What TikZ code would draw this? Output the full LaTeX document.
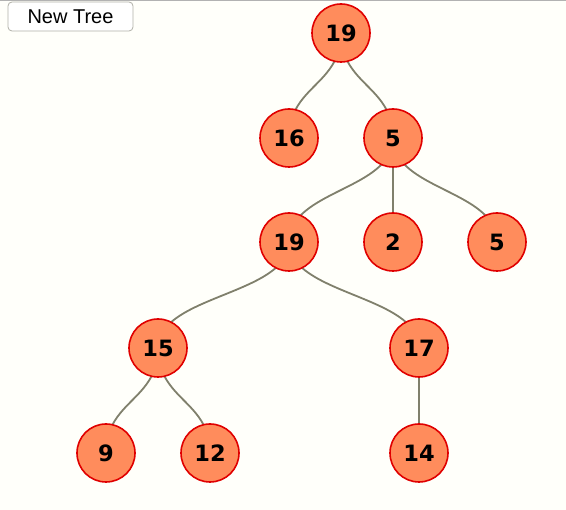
\documentclass[tikz,border=0pt]{standalone}
\usepackage{fontspec}
\setmainfont{DejaVu Sans}
\newfontfamily\btnfont{Liberation Sans}
\usetikzlibrary{calc}

\definecolor{pagebg}{HTML}{FFFFFA}
\definecolor{nodefill}{HTML}{FF8C5C}
\definecolor{noderim}{HTML}{E00000}
\definecolor{linkcol}{HTML}{80806C}
\definecolor{btnrim}{HTML}{B0B0A8}

\pgfdeclarelayer{background}
\pgfdeclarelayer{edges}
\pgfsetlayers{background,edges,main}

% curved link from parent to child, vertical at both ends
\newcommand{\treelink}[2]{%
  \path (#1.center) -- (#2.center) coordinate[midway] (mid);
  \draw[link] (#1.center) .. controls (#1.center |- mid) and (#2.center |- mid) .. (#2.center);
}

\begin{document}
\begin{tikzpicture}[x=1pt, y=-1pt,
    vertex/.style={draw=noderim, fill=nodefill, circle, line width=1.6pt,
      minimum size=58pt, inner sep=0pt, font=\fontsize{22.5}{22.5}\selectfont\bfseries},
    link/.style={draw=linkcol, line width=1.8pt},
    button/.style={draw=btnrim, fill=white, rounded corners=4pt, line width=0.8pt,
      minimum width=125pt, minimum height=29pt, inner sep=0pt,
      font=\btnfont\fontsize{20}{20}\selectfont}]
  \useasboundingbox (0,0) rectangle (566,510);
  \begin{pgfonlayer}{background}
    \fill[pagebg] (0,0) rectangle (566,510);
    \draw[gray!60, line width=0.8pt] (0,0.4) -- (566,0.4);
  \end{pgfonlayer}

  \node[button] (newtree) at (70.5,16.5) {New Tree};

  % level 0
  \node[vertex] (r) at (341,33) {19};
  % level 1
  \node[vertex] (a) at (289,138) {16};
  \node[vertex] (b) at (393,138) {5};
  % level 2
  \node[vertex] (ba) at (289,242) {19};
  \node[vertex] (bb) at (393,242) {2};
  \node[vertex] (bc) at (497,242) {5};
  % level 3
  \node[vertex] (baa) at (158,348) {15};
  \node[vertex] (bab) at (419,348) {17};
  % level 4
  \node[vertex] (baaa) at (106,453) {9};
  \node[vertex] (baab) at (210,453) {12};
  \node[vertex] (baba) at (419,453) {14};

  \begin{pgfonlayer}{edges}
    \treelink{r}{a}
    \treelink{r}{b}
    \treelink{b}{ba}
    \treelink{b}{bb}
    \treelink{b}{bc}
    \treelink{ba}{baa}
    \treelink{ba}{bab}
    \treelink{baa}{baaa}
    \treelink{baa}{baab}
    \treelink{bab}{baba}
  \end{pgfonlayer}
\end{tikzpicture}
\end{document}
